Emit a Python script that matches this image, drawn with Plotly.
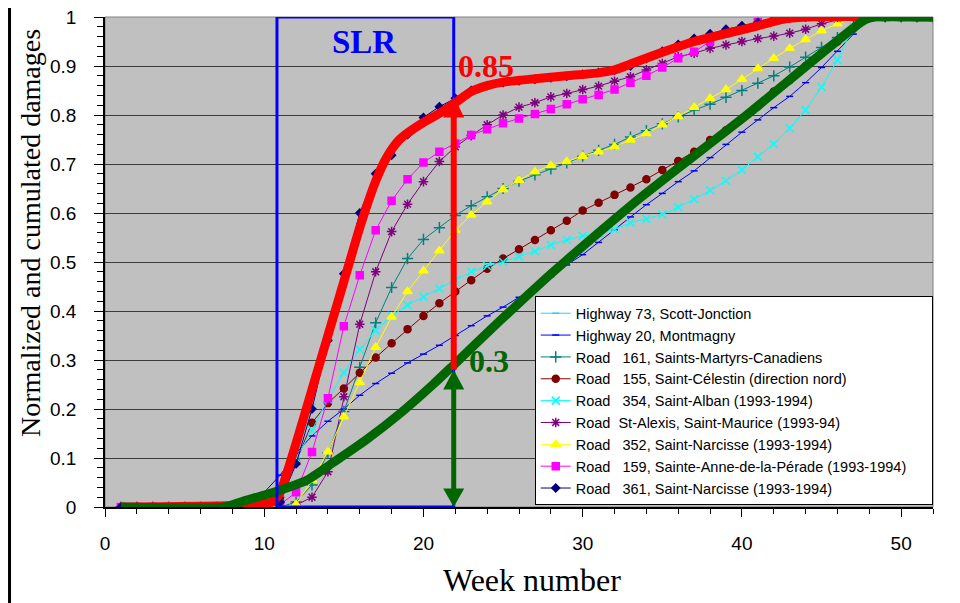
import plotly.graph_objects as go

# ---- data ----
weeks = list(range(1, 53))

series_names = [
    "Highway 73, Scott-Jonction",
    "Highway 20, Montmagny",
    "Road\u00a0\u00a0\u00a0161, Saints-Martyrs-Canadiens",
    "Road\u00a0\u00a0\u00a0155, Saint-Célestin (direction nord)",
    "Road\u00a0\u00a0\u00a0354, Saint-Alban (1993-1994)",
    "Road\u00a0\u00a0St-Alexis, Saint-Maurice (1993-94)",
    "Road\u00a0\u00a0\u00a0352, Saint-Narcisse (1993-1994)",
    "Road\u00a0\u00a0\u00a0159, Sainte-Anne-de-la-Pérade (1993-1994)\u00a0\u00a0\u00a0\u00a0\u00a0",
    "Road\u00a0\u00a0\u00a0361, Saint-Narcisse (1993-1994)",
]

hwy73 = [0] * 10 + [0.02, 0.1, 0.21, 0.33, 0.46, 0.58, 0.67, 0.72, 0.76, 0.79, 0.81, 0.83, 0.845, 0.857,
                    0.865, 0.87, 0.873, 0.877, 0.88, 0.884, 0.888, 0.892, 0.9, 0.915, 0.93, 0.943, 0.955,
                    0.965, 0.973, 0.98, 0.987, 0.993, 0.998] + [1] * 9
hwy20 = [0] * 8 + [0.01, 0.03, 0.065, 0.11, 0.145, 0.175, 0.2, 0.228, 0.252, 0.273, 0.294, 0.312, 0.33,
                   0.35, 0.37, 0.39, 0.408, 0.428, 0.448, 0.47, 0.494, 0.515, 0.54, 0.566, 0.592, 0.617,
                   0.64, 0.664, 0.686, 0.713, 0.74, 0.765, 0.79, 0.815, 0.838, 0.866, 0.897, 0.93,
                   0.965] + [1] * 5
road161 = [0] * 11 + [0.01, 0.045, 0.11, 0.195, 0.285, 0.376, 0.448, 0.507, 0.546, 0.57, 0.595, 0.615,
                      0.633, 0.65, 0.665, 0.678, 0.69, 0.702, 0.716, 0.728, 0.74, 0.755, 0.768, 0.782,
                      0.796, 0.81, 0.822, 0.836, 0.85, 0.865, 0.88, 0.898, 0.918, 0.938, 0.958,
                      0.978] + [1] * 5
road155 = [0] * 10 + [0.02, 0.092, 0.172, 0.212, 0.242, 0.274, 0.305, 0.334, 0.363, 0.39, 0.416, 0.44,
                      0.463, 0.486, 0.507, 0.526, 0.545, 0.565, 0.584, 0.605, 0.621, 0.637, 0.652, 0.669,
                      0.688, 0.706, 0.725, 0.749, 0.769, 0.793, 0.818, 0.848, 0.871, 0.9, 0.926, 0.95,
                      0.978] + [1] * 5
road354 = [0] * 9 + [0.005, 0.03, 0.1, 0.157, 0.22, 0.274, 0.322, 0.36, 0.39, 0.412, 0.429, 0.446,
                     0.463, 0.48, 0.492, 0.5, 0.511, 0.522, 0.535, 0.545, 0.553, 0.56, 0.567, 0.58, 0.588,
                     0.597, 0.612, 0.628, 0.646, 0.666, 0.688, 0.715, 0.741, 0.773, 0.81, 0.857, 0.912,
                     0.98] + [1] * 5
stalexis = [0] * 11 + [0.004, 0.02, 0.072, 0.225, 0.373, 0.48, 0.562, 0.618, 0.664, 0.705, 0.735, 0.758,
                       0.78, 0.8, 0.816, 0.825, 0.837, 0.844, 0.852, 0.859, 0.869, 0.878, 0.892, 0.905,
                       0.919, 0.926, 0.936, 0.943, 0.95, 0.956, 0.961, 0.967, 0.975, 0.986,
                       0.994] + [1] * 6
road352 = [0] * 11 + [0.005, 0.055, 0.113, 0.184, 0.254, 0.326, 0.388, 0.44, 0.482, 0.523, 0.565, 0.596,
                      0.623, 0.648, 0.667, 0.684, 0.697, 0.705, 0.716, 0.725, 0.735, 0.749, 0.762, 0.78,
                      0.797, 0.816, 0.834, 0.852, 0.873, 0.895, 0.916, 0.936, 0.954, 0.972, 0.986,
                      0.996] + [1] * 5
road159 = [0] * 10 + [0.005, 0.03, 0.112, 0.222, 0.369, 0.473, 0.565, 0.625, 0.669, 0.703, 0.725, 0.742,
                      0.759, 0.771, 0.783, 0.793, 0.802, 0.812, 0.822, 0.832, 0.841, 0.852, 0.866, 0.88,
                      0.897, 0.916, 0.929, 0.95, 0.967, 0.977, 0.99, 0.996] + [1] * 10
road361 = [0] * 10 + [0.01, 0.088, 0.2, 0.34, 0.476, 0.6, 0.68, 0.718, 0.76, 0.795, 0.817, 0.834, 0.85,
                      0.86, 0.866, 0.87, 0.873, 0.876, 0.879, 0.883, 0.887, 0.891, 0.9, 0.915, 0.93, 0.944,
                      0.956, 0.966, 0.975, 0.982, 0.989, 0.994, 0.998] + [1] * 9

# hand-drawn envelope curves
red_x = [1, 8, 10.5, 11, 12, 13, 14, 15, 16, 17, 17.7, 18.5, 20, 21, 22, 23, 24, 25, 27, 29, 31, 32, 33,
         35, 37, 39, 41, 42.5, 44, 52]
red_y = [0, 0.003, 0.01, 0.03, 0.13, 0.24, 0.35, 0.46, 0.57, 0.665, 0.714, 0.75, 0.785, 0.803, 0.825,
         0.848, 0.86, 0.867, 0.874, 0.88, 0.886, 0.892, 0.904, 0.928, 0.95, 0.966, 0.982, 0.995, 1, 1]
green_x = [1, 7.5, 8.7, 10.6, 12.7, 14.3, 16.4, 18.5, 20.6, 21.9, 24.8, 27.8, 29, 33.7, 40.3, 47.7, 48.3, 52]
green_y = [0, 0, 0.012, 0.03, 0.055, 0.09, 0.137, 0.19, 0.25, 0.29, 0.38, 0.47, 0.504, 0.633, 0.8, 0.994,
           1, 1]

series_values = [hwy73, hwy20, road161, road155, road354, stalexis, road352, road159, road361]

# ---- styling ----
styles = [
    dict(color="#33CCFF", symbol="line-ew", size=5),
    dict(color="#0000FF", symbol="line-ew", size=5),
    dict(color="#008080", symbol="cross-thin", size=8),
    dict(color="#800000", symbol="circle", size=7),
    dict(color="#00FFFF", symbol="x-thin", size=8),
    dict(color="#800080", symbol="asterisk", size=8),
    dict(color="#FFFF00", symbol="triangle-up", size=8),
    dict(color="#FF00FF", symbol="square", size=7),
    dict(color="#000080", symbol="diamond", size=6),
]

fig = go.Figure()

for name, vals, st in zip(series_names, series_values, styles):
    fig.add_trace(go.Scatter(
        x=weeks, y=vals, mode="lines+markers", name=name,
        line=dict(color=st["color"], width=1),
        marker=dict(symbol=st["symbol"], size=st["size"], color=st["color"],
                    line=dict(color=st["color"], width=1.5)),
    ))

fig.add_trace(go.Scatter(x=red_x, y=red_y, mode="lines", showlegend=False,
                         line=dict(color="#FF0000", width=9, shape="spline", smoothing=0.6)))
fig.add_trace(go.Scatter(x=green_x, y=green_y, mode="lines", showlegend=False,
                         line=dict(color="#006600", width=9, shape="spline", smoothing=0.6)))

# ---- SLR box and arrows ----
slr_x0, slr_x1 = 10.8, 21.9
ax = 21.9
hw = 0.66
shapes = [
    dict(type="rect", xref="paper", yref="paper", x0=0, x1=1, y0=0, y1=1,
         line=dict(color="#808080", width=1), layer="below"),
    dict(type="rect", x0=slr_x0, x1=slr_x1, y0=0, y1=1, line=dict(color="#0000FF", width=3), layer="above"),
    dict(type="line", x0=ax, x1=ax, y0=0.28, y1=0.80, line=dict(color="#FF0000", width=6), layer="above"),
    dict(type="path", path=f"M {ax - hw},0.795 L {ax + hw},0.795 L {ax},0.838 Z",
         fillcolor="#FF0000", line=dict(width=0), layer="above"),
    dict(type="line", x0=ax, x1=ax, y0=0.03, y1=0.245, line=dict(color="#006600", width=5), layer="above"),
    dict(type="path", path=f"M {ax - hw},0.24 L {ax + hw},0.24 L {ax},0.28 Z",
         fillcolor="#006600", line=dict(width=0), layer="above"),
    dict(type="path", path=f"M {ax - hw},0.038 L {ax + hw},0.038 L {ax},0.0 Z",
         fillcolor="#006600", line=dict(width=0), layer="above"),
    # frame line on the left edge of the picture
    dict(type="line", xref="paper", yref="paper", x0=-0.1153, x1=-0.1153, y0=-0.2, y1=1.02,
         line=dict(color="black", width=3)),
]

annotations = [
    dict(x=16.3, y=0.95, text="<b>SLR</b>", showarrow=False,
         font=dict(family="Liberation Serif", size=33, color="#0000FF")),
    dict(x=23.9, y=0.9, text="<b>0.85</b>", showarrow=False,
         font=dict(family="Liberation Serif", size=32, color="#FF0000")),
    dict(x=24.1, y=0.298, text="<b>0.3</b>", showarrow=False,
         font=dict(family="Liberation Serif", size=32, color="#006600")),
    # axis titles
    dict(xref="paper", yref="paper", x=-0.0906, y=0.559, xanchor="center", yanchor="middle",
         text="Normalized and cumulated damages", textangle=-90, showarrow=False,
         font=dict(family="Liberation Serif", size=28)),
    dict(xref="paper", yref="paper", x=0.516, y=-0.149, xanchor="center", yanchor="middle",
         text="Week number", showarrow=False, font=dict(family="Liberation Serif", size=32)),
]

# page body adds an 8px offset, so the figure is 8px smaller than the window
fig.update_layout(
    width=952, height=595,
    margin=dict(l=97, r=27, t=9, b=96),
    paper_bgcolor="white",
    plot_bgcolor="#C0C0C0",
    font=dict(family="Liberation Sans", color="black"),
    shapes=shapes,
    annotations=annotations,
    legend=dict(x=0.519, y=0.43, xanchor="left", yanchor="top",
                bgcolor="white", bordercolor="black", borderwidth=1,
                font=dict(family="Liberation Sans", size=14.5, color="black"),
                tracegroupgap=0),
)

fig.update_xaxes(
    range=[0, 52], dtick=10, tick0=0, showgrid=False, zeroline=False, automargin=False,
    showline=True, linecolor="black", linewidth=1.5,
    ticks="outside", ticklen=8, tickcolor="black",
    minor=dict(dtick=2, ticks="outside", ticklen=5, tickcolor="black"),
    tickfont=dict(family="Liberation Sans", size=19),
    ticklabelstandoff=10, ticklabeloverflow="allow",
)
fig.update_yaxes(
    range=[0, 1], dtick=0.1, tick0=0, showgrid=True, gridcolor="#3c3c3c", gridwidth=1,
    zeroline=False, automargin=False, showline=True, linecolor="black", linewidth=1.5,
    ticks="outside", ticklen=9, tickcolor="black",
    minor=dict(dtick=0.02, ticks="outside", ticklen=6, tickcolor="black", showgrid=False),
    tickfont=dict(family="Liberation Sans", size=19),
    ticklabelstandoff=14, ticklabeloverflow="allow",
)

fig.write_html("out.html")
